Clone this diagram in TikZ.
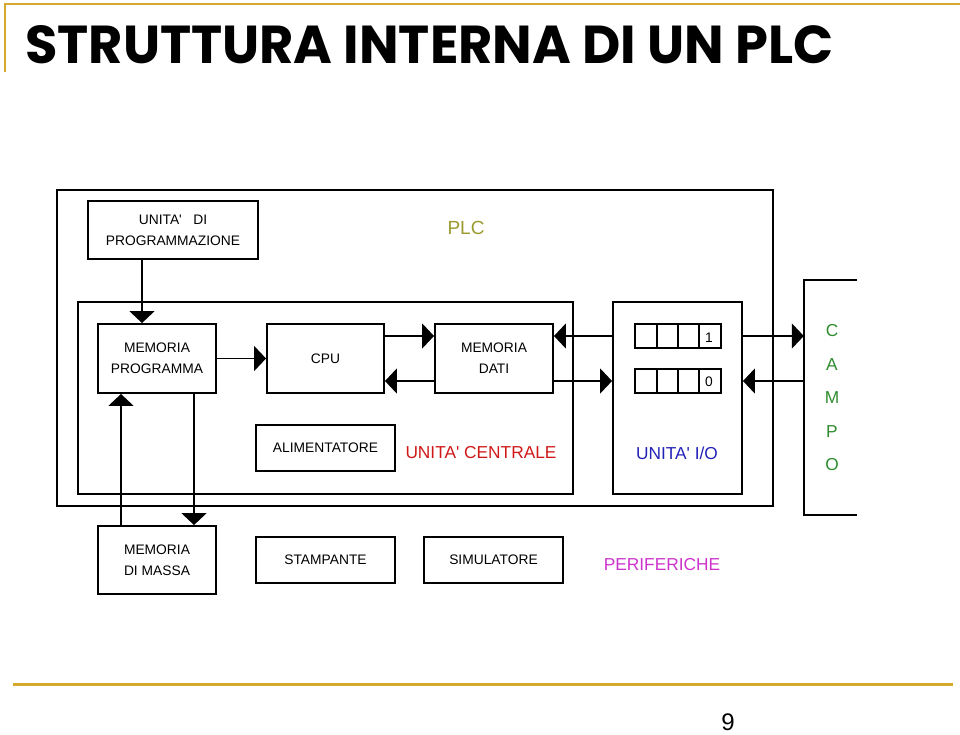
\documentclass[tikz,border=0pt]{standalone}
\usepackage{fontspec}
\setmainfont{Liberation Sans}[Ligatures=TeXOff]
\newfontfamily\titlefont{Poppins}
\usepackage{graphicx}
\usepackage{xcolor}
\usetikzlibrary{arrows.meta}

\definecolor{gold}{HTML}{D6A82C}
\definecolor{plcolive}{HTML}{9A9A2E}
\definecolor{cpured}{HTML}{D01818}
\definecolor{ioblue}{HTML}{2222B8}
\definecolor{campogreen}{HTML}{2E8B2E}
\definecolor{perimag}{HTML}{CC33CC}

\tikzset{
  box/.style={draw, line width=1.9pt, align=center, inner sep=0pt,
    font=\fontsize{13.8}{21}\selectfont},
  frame/.style={draw, line width=1.9pt, inner sep=0pt},
  tri/.style={-{Triangle[width=25pt,length=12pt]}, line width=1.9pt},
  label/.style={inner sep=0pt, font=\fontsize{17.3}{20}\selectfont},
}

\begin{document}
\begin{tikzpicture}[x=1pt,y=-1pt]
    \useasboundingbox (0,0) rectangle (960,734);
    % page decoration
    \draw[gold, line width=2.5pt] (5,72) -- (5,4) -- (960,4);
    \draw[gold, line width=3pt] (13,684) -- (953,684);
    \node[anchor=base west, inner sep=0pt] (title) at (25,63)
        {\resizebox{808pt}{38pt}{\titlefont\bfseries STRUTTURA INTERNA DI UN PLC}};
    \node[inner sep=0pt, font=\fontsize{24}{24}\selectfont] (pagenum) at (728,722) {9};
    % frames
    \node[frame, minimum width=716pt, minimum height=316pt] (plc) at (415,348) {};
    \node[frame, minimum width=495pt, minimum height=192pt] (centrale) at (325.5,398) {};
    \node[frame, minimum width=129pt, minimum height=192pt] (io) at (677.5,398) {};
    \node[inner sep=0pt, minimum width=53pt, minimum height=235pt] (campo) at (830.5,397.5) {};
    \draw[line width=1.9pt] (campo.north east) -- (campo.north west)
        -- (campo.south west) -- (campo.south east);
    % blocks
    \node[box, minimum width=170pt, minimum height=58pt] (udp) at (173,230)
        {UNITA'\ \ \ DI\\PROGRAMMAZIONE};
    \node[box, minimum width=118pt, minimum height=69pt] (mp) at (157,358.5)
        {MEMORIA\\PROGRAMMA};
    \node[box, minimum width=117pt, minimum height=69pt] (cpu) at (325.5,358.5) {CPU};
    \node[box, minimum width=118pt, minimum height=69pt] (md) at (494,358.5)
        {MEMORIA\\DATI};
    \node[box, minimum width=139pt, minimum height=46pt] (alim) at (325.5,448) {ALIMENTATORE};
    \node[box, minimum width=118pt, minimum height=68pt] (mdm) at (157,560)
        {MEMORIA\\DI MASSA};
    \node[box, minimum width=139pt, minimum height=46pt] (stamp) at (325.5,560) {STAMPANTE};
    \node[box, minimum width=139pt, minimum height=46pt] (sim) at (493.5,560) {SIMULATORE};
    % registers
    \foreach \y in {324,369} {
      \foreach \x/\w in {635/22,657/21,678/21,699/22}
        \draw[line width=1.9pt] (\x,\y) rectangle ++(\w,24);
    }
    \node[inner sep=0pt, font=\fontsize{13.8}{14}\selectfont] (bit1) at (709,338) {1};
    \node[inner sep=0pt, font=\fontsize{13.8}{14}\selectfont] (bit0) at (709,382) {0};
    % labels
    \node[label, plcolive, font=\fontsize{19}{20}\selectfont] (plclabel) at (466,228) {PLC};
    \node[label, cpured] (centralelabel) at (481,453) {UNITA' CENTRALE};
    \node[label, ioblue] (iolabel) at (677,453) {UNITA' I/O};
    \node[label, perimag] (perilabel) at (662,565) {PERIFERICHE};
    \foreach \l [count=\i] in {C,A,M,P,O}
      \node[label, campogreen] (campo\i) at (832,331+33.5*\i-33.5) {\l};
    % connections
    \draw[tri] (udp.south -| 142,0) -- (mp.north -| 142,0);
    \draw[tri] (mp.east) -- (cpu.west);
    \draw[tri] (cpu.east |- 0,336) -- (md.west |- 0,336);
    \draw[tri] (md.west |- 0,381) -- (cpu.east |- 0,381);
    \draw[tri] (io.west |- 0,336) -- (md.east |- 0,336);
    \draw[tri] (md.east |- 0,381) -- (io.west |- 0,381);
    \draw[tri] (io.east |- 0,336) -- (campo.west |- 0,336);
    \draw[tri] (campo.west |- 0,381) -- (io.east |- 0,381);
    \draw[tri] (mdm.north -| 121,0) -- (mp.south -| 121,0);
    \draw[tri] (mp.south -| 194,0) -- (mdm.north -| 194,0);
\end{tikzpicture}
\end{document}
